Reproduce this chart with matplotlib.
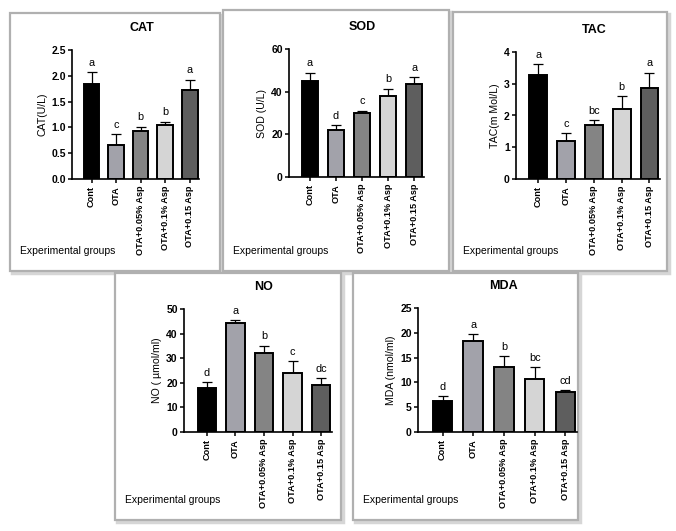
import numpy as np
import matplotlib
matplotlib.use('Agg')
import matplotlib.pyplot as plt
from matplotlib.patches import Rectangle

plt.rcParams['font.family'] = ['Liberation Sans', 'DejaVu Sans']

groups = ['Cont', 'OTA', 'OTA+0.05% Asp', 'OTA+0.1% Asp', 'OTA+0.15 Asp']
bar_colors = ['#000000', '#a2a2aa', '#848484', '#d5d5d5', '#5e5e5e']

cat_mean = [1.85, 0.65, 0.93, 1.05, 1.73]
cat_err = [0.22, 0.22, 0.08, 0.06, 0.19]
cat_sig = ['a', 'c', 'b', 'b', 'a']

sod_mean = [45.0, 22.2, 29.9, 38.0, 43.8]
sod_err = [3.8, 2.0, 1.2, 3.3, 3.0]
sod_sig = ['a', 'd', 'c', 'b', 'a']

tac_mean = [3.27, 1.19, 1.69, 2.22, 2.87]
tac_err = [0.34, 0.26, 0.16, 0.38, 0.48]
tac_sig = ['a', 'c', 'bc', 'b', 'a']

no_mean = [18.0, 44.5, 32.3, 23.8, 19.3]
no_err = [2.4, 1.0, 2.8, 5.0, 2.5]
no_sig = ['d', 'a', 'b', 'c', 'dc']

mda_mean = [6.3, 18.3, 13.1, 10.7, 8.1]
mda_err = [0.9, 1.4, 2.2, 2.4, 0.4]
mda_sig = ['d', 'a', 'b', 'bc', 'cd']

W, H = 676, 531
fig = plt.figure(figsize=(W / 100, H / 100), dpi=100)
fig.patch.set_facecolor('white')


def px_rect(x0, y0, x1, y1):
    return [x0 / W, 1 - y1 / H, (x1 - x0) / W, (y1 - y0) / H]


def draw_box(x0, y0, x1, y1):
    # soft drop shadow + grey frame like the pasted panels
    shadow = Rectangle((x0 / W + 2 / W, 1 - y1 / H - 2 / H), (x1 - x0) / W, (y1 - y0) / H,
                       transform=fig.transFigure, facecolor='none', edgecolor='#d6d6d6',
                       lw=2.5, zorder=0)
    frame = Rectangle((x0 / W, 1 - y1 / H), (x1 - x0) / W, (y1 - y0) / H,
                      transform=fig.transFigure, facecolor='white', edgecolor='#b0b0b0',
                      lw=1.6, zorder=0.5)
    fig.patches.append(shadow)
    fig.patches.append(frame)


def panel(box, axrect, title, ylabel, means, errs, sig, yticks, ytick_fmt):
    draw_box(*box)
    ax = fig.add_axes(px_rect(*axrect))
    ax.set_zorder(2)
    ax.patch.set_alpha(0)
    x = np.arange(len(groups))
    ax.bar(x, means, width=0.64, color=bar_colors, edgecolor='black', linewidth=1.4, zorder=2)
    ax.errorbar(x, means, yerr=[np.zeros(len(errs)), errs], fmt='none', ecolor='black',
                elinewidth=0.9, capsize=3.5, capthick=0.9, zorder=1)
    top = yticks[-1]
    for xi, m, e, s in zip(x, means, errs, sig):
        ax.text(xi, m + e + top * 0.035, s, ha='center', va='bottom', fontsize=7.8)
    ax.set_xlim(-0.8, 4.38)
    ax.set_ylim(0, top)
    ax.set_yticks(yticks)
    ax.set_yticklabels([ytick_fmt.format(t) for t in yticks], fontsize=7.5, fontweight='bold')
    ax.set_xticks(x)
    ax.set_xticklabels(groups, rotation=90, fontsize=6.6, fontweight='bold')
    ax.tick_params(axis='x', length=3, width=1.1, pad=2)
    ax.tick_params(axis='y', length=3, width=1.1, pad=1.5)
    for sp in ['top', 'right']:
        ax.spines[sp].set_visible(False)
    for sp in ['left', 'bottom']:
        ax.spines[sp].set_linewidth(1.2)
    ax.set_ylabel(ylabel, fontsize=7.6, labelpad=3)
    x0, y0, x1, y1 = axrect
    fig.text(((x0 + x1) / 2 + 6) / W, 1 - (y0 - 22) / H, title, ha='center', va='center',
             fontsize=9, fontweight='bold')
    fig.text((box[0] + 10) / W, 1 - (box[3] - 20) / H, 'Experimental groups',
             ha='left', va='center', fontsize=7.5)
    return ax


panel((10, 13, 220, 271), (72, 50, 199, 179), 'CAT', 'CAT(U/L)',
      cat_mean, cat_err, cat_sig, [0.0, 0.5, 1.0, 1.5, 2.0, 2.5], '{:.1f}')
panel((223, 10, 449, 271), (289, 49, 424, 177), 'SOD', 'SOD (U/L)',
      sod_mean, sod_err, sod_sig, [0, 20, 40, 60], '{:d}')
panel((453, 12, 667, 271), (516, 52, 660, 179), 'TAC', 'TAC(m Mol/L)',
      tac_mean, tac_err, tac_sig, [0, 1, 2, 3, 4], '{:d}')
panel((115, 273, 341, 520), (184, 309, 332, 432), 'NO', 'NO ( µmol/ml)',
      no_mean, no_err, no_sig, [0, 10, 20, 30, 40, 50], '{:d}')
panel((353, 273, 578, 520), (418, 308, 577, 432), 'MDA', 'MDA (nmol/ml)',
      mda_mean, mda_err, mda_sig, [0, 5, 10, 15, 20, 25], '{:d}')

fig.savefig('out.png', dpi=100, facecolor='white')
